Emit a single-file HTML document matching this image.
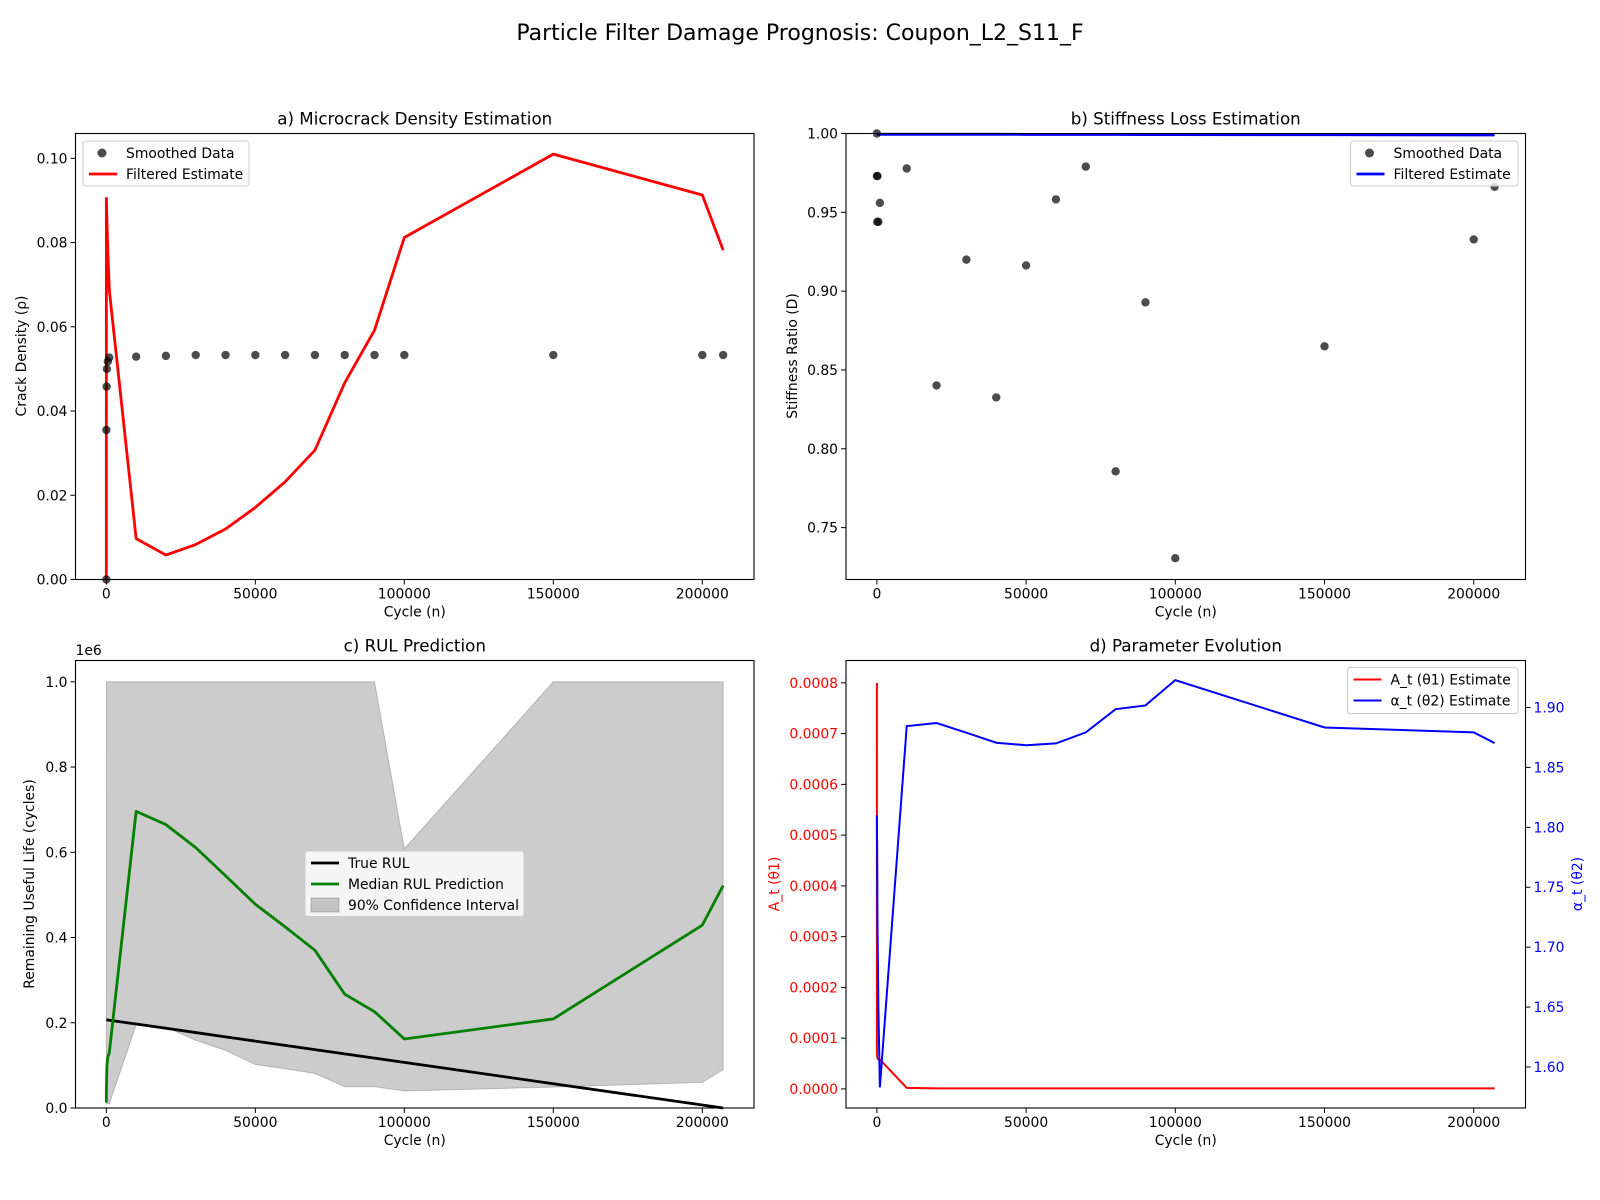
<!DOCTYPE html>
<html><head><meta charset="utf-8"><style>
body{margin:0;background:#fff}
svg{display:block;font-family:"DejaVu Sans","Liberation Sans",sans-serif}
</style></head><body>
<svg id="fig" width="1600" height="1200" viewBox="0 0 1600 1200" xmlns="http://www.w3.org/2000/svg">
<rect width="1600" height="1200" fill="#fff"/>
<text x="800" y="40" font-size="22" text-anchor="middle">Particle Filter Damage Prognosis: Coupon_L2_S11_F</text>
</svg>
<script>
const cycles=[0,10,100,200,500,1000,10000,20000,30000,40000,50000,60000,70000,80000,90000,100000,150000,200000,207000];
const crackSmoothed=[0,0.0355,0.0458,0.050,0.0518,0.0527,0.0529,0.0531,0.0533,0.0533,0.0533,0.0533,0.0533,0.0533,0.0533,0.0533,0.0533,0.0533,0.0533];
const crackFiltered=[0,0.0905,0.088,0.085,0.078,0.0687,0.0097,0.0058,0.0083,0.012,0.0171,0.0232,0.0307,0.0467,0.0592,0.0812,0.101,0.0913,0.0782];
const stiffSmoothed=[1.0,0.973,0.944,0.973,0.944,0.956,0.9778,0.8402,0.920,0.8326,0.9163,0.9582,0.979,0.7857,0.8929,0.7306,0.865,0.9328,0.9662];
const stiffFiltered=[0.9995,0.9995,0.9995,0.9995,0.9995,0.9995,0.9995,0.9995,0.9995,0.9995,0.9994,0.9994,0.9994,0.9994,0.9993,0.9993,0.9992,0.9991,0.9991];
const trueRUL=[207000,206990,206900,206800,206500,206000,197000,187000,177000,167000,157000,147000,137000,127000,117000,107000,57000,7000,0];
const medianRUL=[13000,40000,70000,100000,120000,130000,696000,665000,611000,545000,478000,425000,370000,267000,226000,162000,209000,429000,522000];
const ciLow=[10000,10000,10000,10000,10000,10000,195000,190000,159000,135000,102000,92000,81000,50000,50000,40000,49000,60000,90000];
const ciHigh=[20000,1000000,1000000,1000000,1000000,1000000,1000000,1000000,1000000,1000000,1000000,1000000,1000000,1000000,1000000,608000,1000000,1000000,1000000];
const paramA=[0.0008,0.00007,0.000065,0.00006,0.000058,0.000058,0.000002,0.000001,0.000001,0.000001,0.000001,0.000001,0.000001,0.000001,0.000001,0.000001,0.000001,0.000001,0.000001];
const paramAlpha=[1.81,1.80,1.78,1.72,1.65,1.583,1.8844,1.887,1.879,1.8706,1.8685,1.870,1.8792,1.8986,1.9017,1.9228,1.8833,1.8792,1.8703];
const xTicks=[0,50000,100000,150000,200000];
const aTicks=[0,0.02,0.04,0.06,0.08,0.10];
const bTicks=[0.75,0.80,0.85,0.90,0.95,1.00];
const cTicks=[0,0.2,0.4,0.6,0.8,1.0];
const dLTicks=[0,0.0001,0.0002,0.0003,0.0004,0.0005,0.0006,0.0007,0.0008];
const dRTicks=[1.60,1.65,1.70,1.75,1.80,1.85,1.90];

const NS="http://www.w3.org/2000/svg";
const svg=document.getElementById('fig');
function mk(tag,attrs,parent,text){const e=document.createElementNS(NS,tag);for(const k in attrs)e.setAttribute(k,attrs[k]);if(text!==undefined)e.textContent=text;(parent||svg).appendChild(e);return e;}
const XMIN=-10350,XMAX=217350;
function panel(L,R,T,B,ymin,ymax){return{L,R,T,B,x:v=>L+(v-XMIN)/(XMAX-XMIN)*(R-L),y:v=>B-(v-ymin)/(ymax-ymin)*(B-T)};}
function pts(p,xs,ys,yf){return xs.map((v,i)=>(p.x(v)).toFixed(2)+','+((yf||p.y)(ys[i])).toFixed(2)).join(' ');}
function frame(p,name){const r=mk('rect',{x:p.L,y:p.T,width:p.R-p.L,height:p.B-p.T,fill:'none',stroke:'#000','stroke-width':1.1});}
function xaxis(p,name){xTicks.forEach(t=>{const X=p.x(t);mk('line',{x1:X,x2:X,y1:p.B,y2:p.B+5,stroke:'#000'});const e=mk('text',{x:X,y:p.B+19,'font-size':13.9,'text-anchor':'middle'},null,String(t));});
 const l=mk('text',{x:(p.L+p.R)/2,y:p.B+37,'font-size':13.9,'text-anchor':'middle'},null,'Cycle (n)');}
function yaxis(p,ticks,fmt,name,yf,right,color){ticks.forEach(t=>{const Y=yf(t);const X=right?p.R:p.L;mk('line',{x1:X,x2:right?X+5:X-5,y1:Y,y2:Y,stroke:'#000'});const e=mk('text',{x:right?X+8:X-8,y:Y+5,'font-size':13.9,'text-anchor':right?'start':'end',fill:color||'#000'},null,fmt(t));});}
function ytitle(x,y,txt,name,color){const e=mk('text',{x:0,y:0,'font-size':13.9,'text-anchor':'middle',fill:color||'#000',transform:`translate(${x},${y}) rotate(-90)`},null,txt);}
function title(p,txt,name){const e=mk('text',{x:(p.L+p.R)/2,y:p.T-9,'font-size':16.7,'text-anchor':'middle'},null,txt);}
function legend(x,y,w,h,items,name){const g=mk('g',{});
 mk('rect',{x,y,width:w,height:h,rx:3,fill:'#fff','fill-opacity':0.8,stroke:'#ccc'},g);
 items.forEach((it,i)=>{const cy=y+12+i*21;
  if(it.type==='dot')mk('circle',{cx:x+19,cy,r:4.5,fill:'#000','fill-opacity':0.7},g);
  else if(it.type==='line')mk('line',{x1:x+6,x2:x+34,y1:cy,y2:cy,stroke:it.c,'stroke-width':it.w||2.8},g);
  else mk('rect',{x:x+6,y:cy-7,width:28,height:14,fill:'#000','fill-opacity':0.2,stroke:'#000','stroke-opacity':0.2},g);
  const t=mk('text',{x:x+43,y:cy+5,'font-size':13.9},g,it.t);});}

// Panel a
const pa=panel(75.5,754,133.5,579.5,0,0.1059);
mk('polyline',{points:pts(pa,cycles,crackFiltered),fill:'none',stroke:'#ff0000','stroke-width':2.8,'stroke-linejoin':'round'});
cycles.forEach((c,i)=>{const d=mk('circle',{cx:pa.x(c),cy:pa.y(crackSmoothed[i]),r:4.2,fill:'#000','fill-opacity':0.7});

});
frame(pa,'panel-a');xaxis(pa,'panel-a');yaxis(pa,aTicks,t=>t.toFixed(2),'panel-a',pa.y);
ytitle(26,356,'Crack Density (ρ)','panel-a-y-axis-title');title(pa,'a) Microcrack Density Estimation','panel-a-title');
legend(83,141,166,45,[{type:'dot',t:'Smoothed Data'},{type:'line',c:'#ff0000',t:'Filtered Estimate'}],'panel-a-legend');

// Panel b
const pb=panel(846,1525.5,133.5,579.5,0.7171,1.0);
const sb=mk('svg',{x:0,y:0,width:1600,height:1200,overflow:'visible'});
mk('polyline',{points:pts(pb,cycles,stiffFiltered),fill:'none',stroke:'#0000ff','stroke-width':2.8});
cycles.forEach((c,i)=>{const d=mk('circle',{cx:pb.x(c),cy:pb.y(stiffSmoothed[i]),r:4.2,fill:'#000','fill-opacity':0.7});

});
frame(pb,'panel-b');xaxis(pb,'panel-b');yaxis(pb,bTicks,t=>t.toFixed(2),'panel-b',pb.y);
ytitle(797,356,'Stiffness Ratio (D)','panel-b-y-axis-title');title(pb,'b) Stiffness Loss Estimation','panel-b-title');
legend(1350.5,141,167.5,45,[{type:'dot',t:'Smoothed Data'},{type:'line',c:'#0000ff',t:'Filtered Estimate'}],'panel-b-legend');

// Panel c
const pc=panel(75.5,754,660.5,1108,0,1050000);
const band=cycles.map((c,i)=>pc.x(c)+','+pc.y(ciHigh[i])).concat(cycles.slice().reverse().map((c,j)=>{const i=cycles.length-1-j;return pc.x(c)+','+pc.y(ciLow[i]);})).join(' ');
mk('polygon',{points:band,fill:'#000','fill-opacity':0.2,stroke:'#000','stroke-opacity':0.2});
mk('polyline',{points:pts(pc,cycles,trueRUL),fill:'none',stroke:'#000','stroke-width':2.8});
mk('polyline',{points:pts(pc,cycles,medianRUL),fill:'none',stroke:'#008000','stroke-width':2.8,'stroke-linejoin':'round'});
frame(pc,'panel-c');xaxis(pc,'panel-c');yaxis(pc,cTicks,t=>t.toFixed(1),'panel-c',v=>pc.y(v*1e6));
mk('text',{x:75.5,y:655,'font-size':13.9},null,'1e6');
ytitle(34,884,'Remaining Useful Life (cycles)','panel-c-y-axis-title');title(pc,'c) RUL Prediction','panel-c-title');
legend(305,851,219,65.5,[{type:'line',c:'#000',t:'True RUL'},{type:'line',c:'#008000',t:'Median RUL Prediction'},{type:'fill',t:'90% Confidence Interval'}],'panel-c-legend');

// Panel d
const pd=panel(846,1525.5,660.5,1108,-0.0000376,0.000844);
const yR=v=>pd.B-(v-1.5658)/(1.9392-1.5658)*(pd.B-pd.T);
mk('polyline',{points:pts(pd,cycles,paramA),fill:'none',stroke:'#ff0000','stroke-width':2});
mk('polyline',{points:pts(pd,cycles,paramAlpha,yR),fill:'none',stroke:'#0000ff','stroke-width':2});
frame(pd,'panel-d');xaxis(pd,'panel-d');
yaxis(pd,dLTicks,t=>t.toFixed(4),'panel-d-left',pd.y,false,'#ff0000');
yaxis(pd,dRTicks,t=>t.toFixed(2),'panel-d-right',yR,true,'#0000ff');
ytitle(779,884,'A_t (θ1)','panel-d-left-axis-title','#ff0000');
ytitle(1582,884,'α_t (θ2)','panel-d-right-axis-title','#0000ff');
title(pd,'d) Parameter Evolution','panel-d-title');
legend(1347.5,667.5,170.5,46,[{type:'line',c:'#ff0000',w:2,t:'A_t (θ1) Estimate'},{type:'line',c:'#0000ff',w:2,t:'α_t (θ2) Estimate'}],'panel-d-legend');
</script>
</body></html>
